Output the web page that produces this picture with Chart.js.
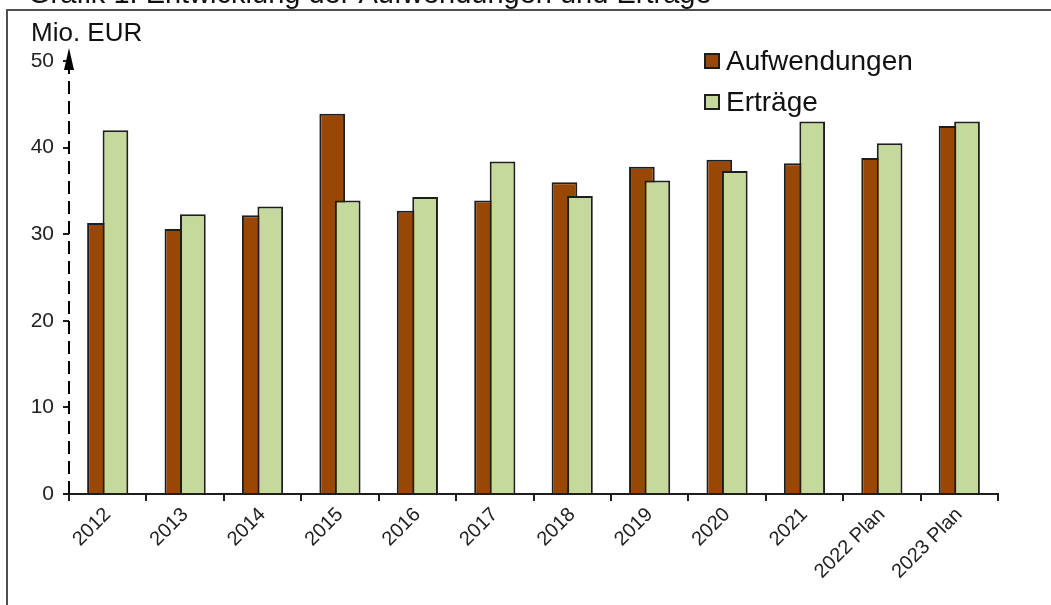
<!DOCTYPE html>
<html>
<head>
<meta charset="utf-8">
<script src="https://cdn.jsdelivr.net/npm/chart.js@4/dist/chart.umd.min.js"></script>
<style>
  html, body { margin: 0; padding: 0; background: #fff; }
  #wrap { width: 1051px; height: 605px; position: relative; }
</style>
</head>
<body>
<div id="wrap"><canvas id="financeChart" width="1051" height="605"></canvas></div>
<script>
var categories = ['2012', '2013', '2014', '2015', '2016', '2017', '2018', '2019', '2020', '2021', '2022 Plan', '2023 Plan'];
var aufwendungen = [31.3, 30.6, 32.2, 43.9, 32.7, 33.9, 36.0, 37.8, 38.6, 38.2, 38.8, 42.5];
var ertraege = [42.0, 32.3, 33.2, 33.9, 34.3, 38.4, 34.4, 36.2, 37.3, 43.0, 40.5, 43.0];
var seriesNames = ['Aufwendungen', 'Erträge'];

var fontFamily = "'Liberation Sans', Arial, sans-serif";
var ink = '#1e1e1e';

var framePlugin = {
    id: 'framePlugin',
    beforeDatasetsDraw: function(chart) {
        var ctx = chart.ctx;
        var area = chart.chartArea;
        // dashed y axis line (Chart.js border.dash only dashes grid lines)
        ctx.save();
        ctx.strokeStyle = '#000';
        ctx.lineWidth = 2;
        ctx.setLineDash([13, 7]);
        ctx.beginPath();
        ctx.moveTo(area.left, area.bottom);
        ctx.lineTo(area.left, 66);
        ctx.stroke();
        ctx.restore();

        // draw the first series first so the second one overlaps it
        for (var i = 0; i < chart.data.datasets.length; i++) {
            chart.getDatasetMeta(i).controller.draw();
        }
        return false;
    },
    afterDraw: function(chart) {
        var ctx = chart.ctx;
        var area = chart.chartArea;
        ctx.save();

        // outer frame (top and left edges)
        ctx.strokeStyle = '#505050';
        ctx.lineWidth = 2;
        ctx.beginPath();
        ctx.moveTo(1051, 10);
        ctx.lineTo(7, 10);
        ctx.lineTo(7, 605);
        ctx.stroke();

        // title, cut off at the top
        ctx.fillStyle = '#111';
        ctx.font = '29px ' + fontFamily;
        ctx.textBaseline = 'alphabetic';
        ctx.fillText('Grafik 1: Entwicklung der Aufwendungen und Erträge', 28, 3);

        // unit label
        ctx.font = '26px ' + fontFamily;
        ctx.fillText('Mio. EUR', 31, 41);

        // arrow head on the y axis
        ctx.fillStyle = '#000';
        ctx.beginPath();
        ctx.moveTo(area.left, 48);
        ctx.lineTo(area.left - 5, 70);
        ctx.lineTo(area.left + 5, 70);
        ctx.closePath();
        ctx.fill();

        // legend
        var rows = [61, 102];
        ctx.font = '28px ' + fontFamily;
        ctx.textBaseline = 'middle';
        chart.data.datasets.forEach(function(ds, i) {
            var y = rows[i];
            ctx.fillStyle = ds.backgroundColor;
            ctx.fillRect(705, y - 7, 14, 14);
            ctx.strokeStyle = ink;
            ctx.lineWidth = 2;
            ctx.strokeRect(705, y - 7, 14, 14);
            ctx.fillStyle = '#111';
            ctx.fillText(ds.label, 726, y + 1);
        });
        ctx.restore();
    }
};

var ctx = document.getElementById('financeChart').getContext('2d');
var myChart = new Chart(ctx, {
    type: 'bar',
    data: {
        labels: categories,
        datasets: [{
            label: seriesNames[0],
            data: aufwendungen,
            backgroundColor: '#994705',
            borderColor: ink,
            borderWidth: 2,
            categoryPercentage: 0.4,
            barPercentage: 1.66
        }, {
            label: seriesNames[1],
            data: ertraege,
            backgroundColor: '#c6d99c',
            borderColor: ink,
            borderWidth: 2,
            categoryPercentage: 0.4,
            barPercentage: 1.66
        }]
    },
    options: {
        responsive: false,
        animation: false,
        layout: {
            padding: { left: 0, top: 61, right: 53, bottom: 0 }
        },
        scales: {
            x: {
                offset: true,
                grid: {
                    offset: true,
                    drawOnChartArea: false,
                    drawTicks: true,
                    tickLength: 7,
                    color: ink,
                    lineWidth: 2
                },
                border: { color: ink, width: 2 },
                ticks: {
                    color: '#222',
                    font: { family: fontFamily, size: 20 },
                    maxRotation: 45,
                    minRotation: 45,
                    autoSkip: false,
                    padding: 2
                },
                afterFit: function(scale) { scale.height = 111; }
            },
            y: {
                min: 0,
                max: 50,
                ticks: {
                    stepSize: 10,
                    color: '#222',
                    font: { family: fontFamily, size: 21 },
                    padding: 9
                },
                grid: {
                    drawOnChartArea: false,
                    drawTicks: true,
                    tickLength: 6,
                    color: ink,
                    lineWidth: 2
                },
                border: { display: false },
                afterFit: function(scale) { scale.width = 69; }
            }
        },
        plugins: {
            legend: { display: false },
            tooltip: { enabled: false }
        }
    },
    plugins: [framePlugin]
});
</script>
</body>
</html>
